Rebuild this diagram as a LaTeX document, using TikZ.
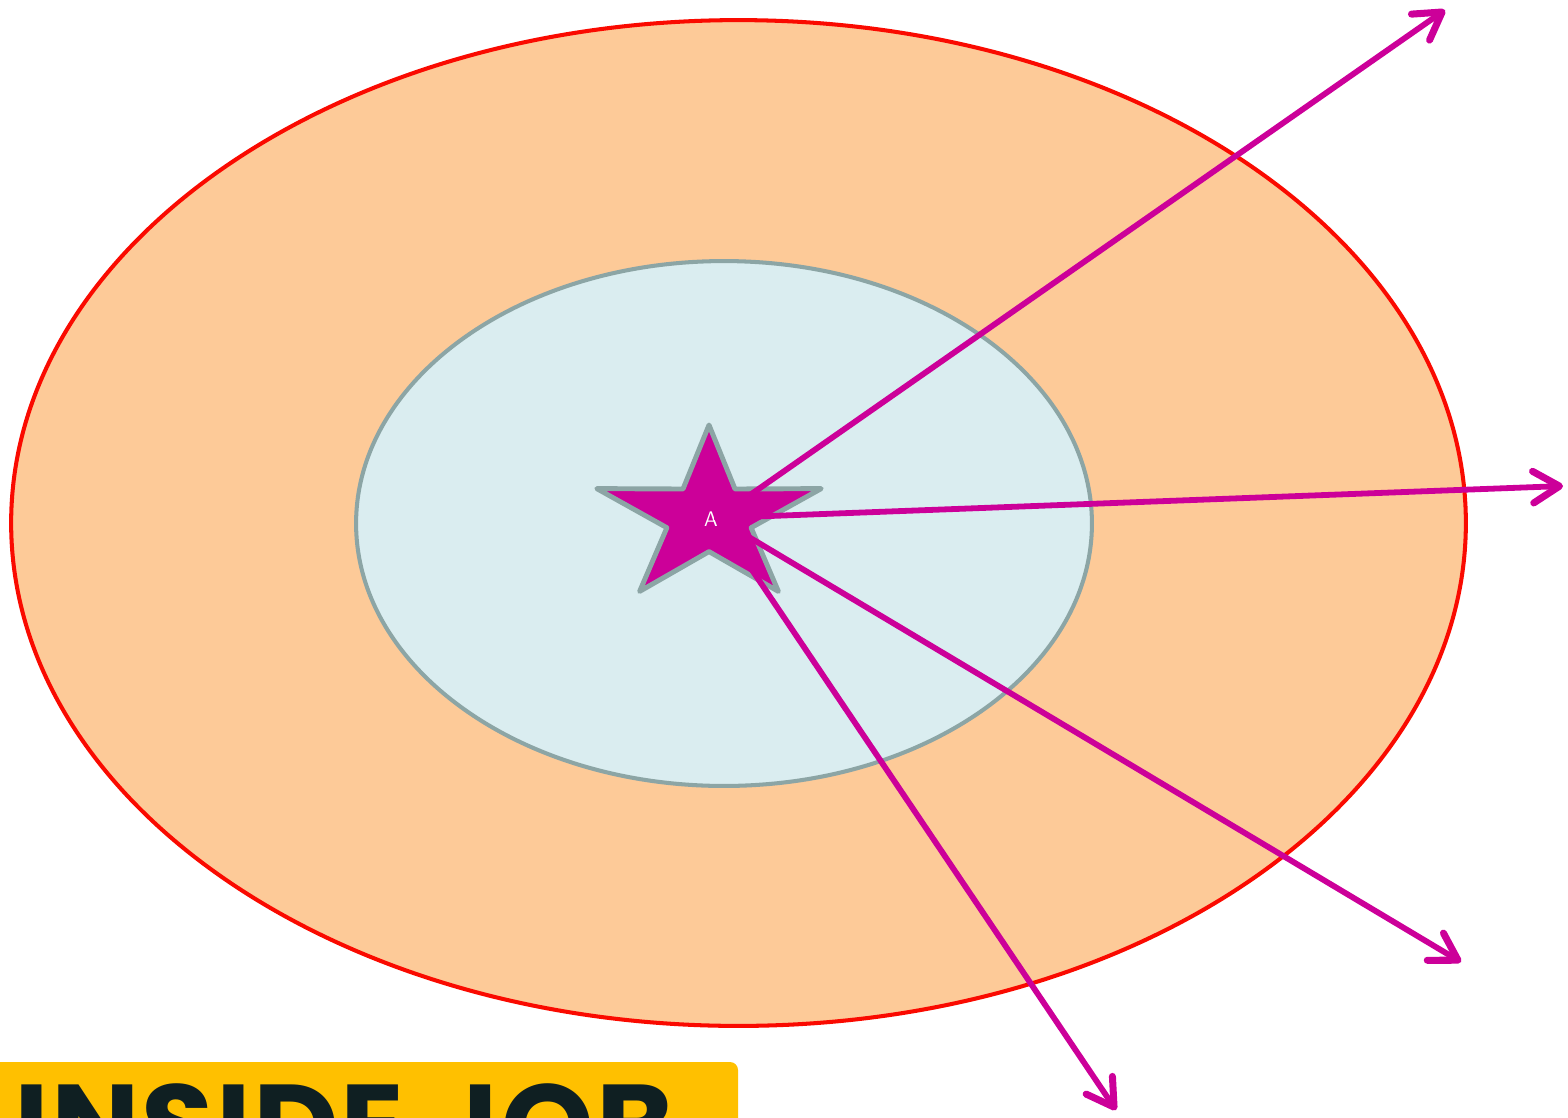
\documentclass[tikz,border=0pt]{standalone}
\usepackage{fontspec}
\newfontfamily\bannerfont{Poppins}[LetterSpace=1.8]
\usetikzlibrary{arrows.meta,shapes.geometric}
\definecolor{peach}{HTML}{FDCA98}
\definecolor{ringred}{HTML}{FA0A00}
\definecolor{paleblue}{HTML}{DAEDF0}
\definecolor{slategray}{HTML}{8CA5A5}
\definecolor{magenta}{HTML}{CC0099}
\definecolor{banneryellow}{HTML}{FFC000}
\definecolor{inkdark}{HTML}{0F1F22}
\tikzset{
  outerring/.style={ellipse, inner sep=0, fill=peach, draw=ringred, line width=2.3pt},
  innerring/.style={ellipse, inner sep=0, fill=paleblue, draw=slategray, line width=2.3pt},
  starshape/.style={fill=magenta, draw=slategray, line width=2.8pt, line join=round},
  ray/.style={draw=magenta, line width=3.3pt, line cap=round,
    -{Straight Barb[length=15pt,width=18pt,line width=4pt,line cap=round,line join=round]}},
}
\begin{document}
\begin{tikzpicture}[x=0.02cm, y=-0.02cm]
\useasboundingbox (0,0) rectangle (1568,1117);
\clip (0,0) rectangle (1568,1117);
% rings
\node (outer) [outerring, minimum width=29.1cm, minimum height=20.12cm] at (738.5,523) {};
\node (inner) [innerring, minimum width=14.72cm, minimum height=10.5cm] at (724,523.5) {};
% star
\path[starshape] (709,425) -- (735,489) -- (821.2,488.6) -- (751.1,527.7) -- (778.4,591.4)
  -- (709,551.6) -- (639.6,591.4) -- (666.9,527.7) -- (596.8,488.6) -- (683,489) -- cycle;
\node (mark) [text=white, font=\sffamily\fontsize{12}{12}\selectfont, inner sep=0] at (711,519) {A};
% rays
\coordinate (src) at (717,518);
\coordinate (t1) at (1445,10);
\coordinate (t2) at (1563,486);
\coordinate (t3) at (1461,962);
\coordinate (t4) at (1116,1110);
\draw[ray] (src) -- (t1);
\draw[ray] (src) -- (t2);
\draw[ray] (src) -- (t3);
\draw[ray] (src) -- (t4);
% banner
\fill[banneryellow, rounded corners=0.16cm] (-20,1062) rectangle (738,1160);
\node (title) [anchor=north west, inner sep=0, text=inkdark,
  font=\bannerfont\bfseries\fontsize{67}{80}\selectfont] at (14,1083) {INSIDE JOB};
\end{tikzpicture}
\end{document}
